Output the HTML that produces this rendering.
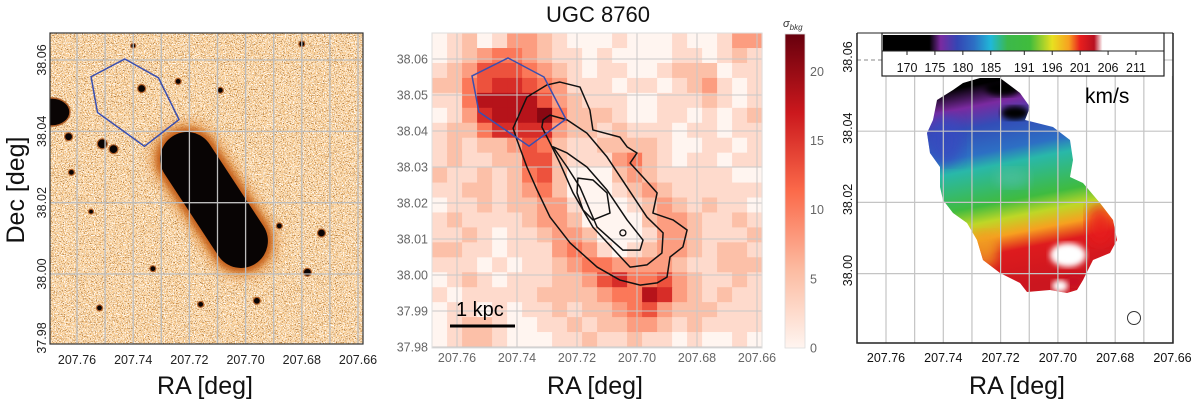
<!DOCTYPE html>
<html><head><meta charset="utf-8"><style>
html,body{margin:0;padding:0;background:#fff;}
svg{display:block;font-family:"Liberation Sans",sans-serif;}
</style></head><body>
<svg id="fig" width="1200" height="405" viewBox="0 0 1200 405" xmlns="http://www.w3.org/2000/svg">
<defs>
<filter id="spkDark" x="0" y="0" width="1" height="1">
<feTurbulence type="fractalNoise" baseFrequency="0.85" numOctaves="1" seed="7"/>
<feColorMatrix type="matrix" values="0 0 0 0 0.45  0 0 0 0 0.2  0 0 0 0 0.05  -14 0 0 0 5.7"/>
</filter>
<filter id="spkLight" x="0" y="0" width="1" height="1">
<feTurbulence type="fractalNoise" baseFrequency="0.9" numOctaves="1" seed="11"/>
<feColorMatrix type="matrix" values="0 0 0 0 1  0 0 0 0 1  0 0 0 0 1  12 0 0 0 -6.2"/>
</filter>
<filter id="blur3"><feGaussianBlur stdDeviation="3"/></filter>
<filter id="blur6"><feGaussianBlur stdDeviation="6"/></filter>
<clipPath id="clip1"><rect x="50" y="33" width="313" height="311"/></clipPath>
<clipPath id="clip3"><path d="M980,78 L1000,78 L1020,93 L1030,107 L1025,120 L1053,127 L1070,140 L1073,160 L1070,177 L1083,183 L1100,203 L1113,220 L1117,240 L1110,253 L1093,260 L1083,280 L1077,290 L1067,293 L1050,290 L1027,292 L1020,283 L1000,273 L983,260 L977,240 L967,223 L953,213 L943,200 L940,187 L940,167 L930,153 L927,133 L933,120 L937,100 L953,90 L963,83 Z"/></clipPath>
<linearGradient id="velGrad" gradientUnits="userSpaceOnUse" x1="990" y1="82" x2="1030" y2="285"></linearGradient>
<linearGradient id="cbarGrad" gradientUnits="userSpaceOnUse" x1="882" y1="0" x2="1164" y2="0"></linearGradient>
<linearGradient id="redsGrad" x1="0" y1="1" x2="0" y2="0">
<stop offset="0" stop-color="#fff5f0"/><stop offset="0.25" stop-color="#fcbba1"/><stop offset="0.5" stop-color="#fb6a4a"/><stop offset="0.75" stop-color="#cb181d"/><stop offset="1" stop-color="#67000d"/>
</linearGradient>
</defs>

<g id="p1">
<g clip-path="url(#clip1)">
<rect x="50" y="33" width="313" height="311" fill="#f9cf98"/>
<rect x="50" y="33" width="313" height="311" filter="url(#spkLight)" opacity="0.9"/>
<rect x="50" y="33" width="313" height="311" filter="url(#spkDark)"/>
<g transform="translate(214,200) rotate(56.7)">
<rect x="-86" y="-36" width="172" height="72" rx="36" fill="#e08a3a" filter="url(#blur6)" opacity="0.8"/>
<rect x="-80" y="-31" width="160" height="62" rx="31" fill="#c4601a" filter="url(#blur3)"/>
<rect x="-76" y="-27" width="152" height="54" rx="27" fill="#080404"/>
</g>
<ellipse cx="52" cy="112" rx="18" ry="14" fill="#0a0505" stroke="#b0602a" stroke-width="1.5"/>
<g id="stars1"></g>
</g>
<g id="grid1"></g>
<rect x="50" y="33" width="313" height="311" fill="none" stroke="#333" stroke-width="1.2"/>
<polygon id="hex1" fill="none" stroke="#3a4fb0" stroke-width="1.5"/>
<g id="ticks1"></g>
<text x="205" y="394" font-size="25" text-anchor="middle" fill="#111">RA [deg]</text>
<text x="0" y="0" font-size="25" text-anchor="middle" fill="#111" transform="translate(24,190) rotate(-90)">Dec [deg]</text>
</g>

<g id="p2">
<text x="598" y="22" font-size="22" text-anchor="middle" fill="#111">UGC 8760</text>
<rect x="432" y="33" width="330" height="315" fill="#fff5f0"/>
<g id="heat"></g>
<g id="grid2"></g>
<rect x="432" y="33" width="330" height="315" fill="none" stroke="#ddd" stroke-width="1"/>
<g id="contours"></g>
<polygon id="hex2" fill="none" stroke="#3a4fb0" stroke-width="1.5"/>
<line x1="450" y1="326" x2="515" y2="326" stroke="#000" stroke-width="3"/>
<text x="456" y="316" font-size="20" fill="#000">1 kpc</text>
<g id="ticks2"></g>
<text x="595" y="394" font-size="25" text-anchor="middle" fill="#111">RA [deg]</text>
<g>
<rect x="785" y="34" width="20" height="314" fill="url(#redsGrad)" stroke="#ddd" stroke-width="0.8"/>
<text x="783" y="27" font-size="11" font-style="italic" fill="#333">σ<tspan font-size="8" dy="3">bkg</tspan></text>
<g id="cbticks2"></g>
</g>
</g>

<g id="p3">
<rect x="857" y="33" width="316" height="310" fill="#fff"/>
<g clip-path="url(#clip3)">
<rect x="920" y="70" width="210" height="230" fill="url(#velGrad)"/>
<ellipse cx="1003" cy="88" rx="18" ry="8" fill="#000" filter="url(#blur3)"/>
<ellipse cx="1015" cy="113" rx="14" ry="7" fill="#050005" filter="url(#blur3)"/>
<ellipse cx="945" cy="140" rx="18" ry="24" fill="#3848c0" filter="url(#blur6)" opacity="0.8"/>
<ellipse cx="1012" cy="178" rx="18" ry="10" fill="#50c0a0" filter="url(#blur6)" opacity="0.7"/>
<ellipse cx="985" cy="250" rx="14" ry="18" fill="#f0a020" filter="url(#blur6)" opacity="0.8"/>
<ellipse cx="1068" cy="255" rx="18" ry="12" fill="#fff" filter="url(#blur3)"/>
<ellipse cx="1074" cy="282" rx="9" ry="6" fill="#c81020" filter="url(#blur3)"/>
<ellipse cx="1060" cy="286" rx="8" ry="6" fill="#fff" filter="url(#blur3)"/>
<ellipse cx="1100" cy="225" rx="14" ry="20" fill="#e81e1e" filter="url(#blur6)" opacity="0.8"/>
</g>
<g id="grid3"></g>
<line x1="857" y1="60" x2="882" y2="60" stroke="#888" stroke-dasharray="4,3" stroke-width="1"/>
<path d="M857,33 L857,343 L1173,343 L1173,33" fill="none" stroke="#222" stroke-width="1.5"/>
<line x1="857" y1="33" x2="1173" y2="33" stroke="#222" stroke-width="1"/>
<g>
<rect x="882" y="33" width="282" height="43" fill="#fff" stroke="#222" stroke-width="1.2"/>
<rect x="883" y="35" width="280" height="16" fill="url(#cbarGrad)"/>
<line x1="882" y1="51" x2="1164" y2="51" stroke="#222" stroke-width="1"/>
<g id="cbticks3"></g>
</g>
<text x="1085" y="103" font-size="21" fill="#000">km/s</text>
<circle cx="1134" cy="318" r="6.5" fill="none" stroke="#333" stroke-width="1"/>
<g id="ticks3"></g>
<text x="1017" y="394" font-size="25" text-anchor="middle" fill="#111">RA [deg]</text>
</g>
</svg>
<script>
const raTicks = [207.76, 207.74, 207.72, 207.70, 207.68, 207.66];
const raTickLabels = ["207.76","207.74","207.72","207.70","207.68","207.66"];
const decTicks1 = [38.06, 38.04, 38.02, 38.00, 37.98];
const decTickLabels1 = ["38.06","38.04","38.02","38.00","37.98"];
const decTicks2 = [38.06,38.05,38.04,38.03,38.02,38.01,38.00,37.99,37.98];
const decTickLabels2 = ["38.06","38.05","38.04","38.03","38.02","38.01","38.00","37.99","37.98"];
const decTicks3 = [38.06, 38.04, 38.02, 38.00];
const decTickLabels3 = ["38.06","38.04","38.02","38.00"];
const sigmaTicks = [0,5,10,15,20];
const sigmaMax = 22.7;
const velTicks = [170,175,180,185,191,196,201,206,211];
const velStopsV = [170,174,176,179,182,185,188,192,196,199,201,203.5,205];
const velStopsC = ["#000000","#000000","#7a2aa0","#3446b4","#2d6fc4","#20b8d8","#3cb84a","#40bc3c","#e8e020","#f7a020","#e81e1e","#b81020","#ffffff"];
// velocity along the field's main gradient (fraction along galaxy -> km/s)
const fieldPos = [0, 0.1, 0.2, 0.33, 0.4, 0.58, 0.66, 0.74, 0.82, 1];
const fieldVel = [174, 176, 179.5, 182, 186, 191, 195, 199, 201.5, 202.5];
const hexRA = [207.755,207.743,207.731,207.7237,207.736,207.7527];
const hexDec = [38.0553,38.0603,38.055,38.0433,38.0358,38.0453];
const heatRA0 = 207.7683, heatRA1 = 207.6583, heatDec0 = 38.0672, heatDec1 = 37.98;
const heat = [
"0120133210001000100133",
"0123443211010000110121",
"1235554321011001222011",
"2245665431110110123101",
"1147777532111001112101",
"0136777842221001101012",
"1224666632212111011011",
"1212235421122221001101",
"1211225521113421011011",
"2112124520002321111100",
"1122123420001232111111",
"0112122331000123212110",
"1211112332000023321121",
"1121011233200013321112",
"2211011134310123321221",
"1110101123443333211222",
"0121011122356445321121",
"1011111222234476321211",
"0110101121223453222111",
"0122100112122332121111",
"0122100011211211010010"];
const contourRA = [
[207.7367,207.73,207.7257,207.719,207.7157,207.7147,207.7057,207.7033,207.70,207.7023,207.698,207.6933,207.6947,207.688,207.6833,207.6847,207.689,207.69,207.6933,207.699,207.7057,207.7133,207.7223,207.729,207.7333,207.7367,207.74,207.7413],
[207.73,207.7313,207.7317,207.729,207.7257,207.7213,207.7147,207.7067,207.7023,207.6967,207.6917,207.6913,207.6967,207.7033,207.71,207.7167,207.7233,207.729],
[207.728,207.7233,207.719,207.7133,207.7047,207.699,207.698,207.7033,207.71,207.7167,207.7233],
[207.7197,207.7147,207.71,207.709,207.7147,207.718,207.72]];
const contourDec = [
[38.0494,38.0528,38.0536,38.0522,38.0458,38.0403,38.0383,38.0356,38.0339,38.0311,38.0272,38.0228,38.0172,38.0153,38.0125,38.0078,38.005,37.9994,37.9978,37.9972,37.9986,38.0022,38.0089,38.0161,38.0236,38.03,38.0375,38.0408],
[38.0439,38.0431,38.0411,38.0367,38.0311,38.0228,38.0133,38.0061,38.0022,38.0028,38.0061,38.0117,38.0161,38.0244,38.0328,38.0394,38.0431,38.0444],
[38.0356,38.03,38.0244,38.0133,38.0069,38.0069,38.0097,38.0153,38.0236,38.03,38.0339],
[38.0269,38.0264,38.0228,38.0172,38.0153,38.0181,38.0228]];
const starRA = [207.763,207.751,207.747,207.737,207.724,207.709,207.680,207.688,207.673,207.733,207.752,207.755,207.762,207.740,207.716,207.696,207.678];
const starDec = [38.0385,38.0365,38.035,38.052,38.054,38.0515,38.0645,38.0135,38.0115,38.0015,37.9905,38.0175,38.0285,38.064,37.9915,37.9925,38.0005];
const starR = [4,5,4.5,4,3,3,3,3,4,3,3,2.5,3,2.5,3,3.5,4];
const NS="http://www.w3.org/2000/svg";
function mk(tag, parent, attrs){const e=document.createElementNS(NS,tag);for(const k in attrs)e.setAttribute(k,attrs[k]);parent.appendChild(e);return e;}
const x1=ra=>77+(207.76-ra)*2810, y1=d=>60+(38.06-d)*3567;
const x2=ra=>457+(207.76-ra)*3000, y2=d=>59+(38.06-d)*3600;
const x3=ra=>886+(207.76-ra)*2865, y3=d=>60+(38.06-d)*3560;
function hex2rgb(a){return [1,3,5].map(i=>parseInt(a.substr(i,2),16));}
function lerpHex(a,b,t){const pa=hex2rgb(a),pb=hex2rgb(b);return "rgb("+pa.map((v,i)=>Math.round(v+(pb[i]-v)*t)).join(",")+")";}
const redsC=["#fff5f0","#fcbba1","#fb6a4a","#cb181d","#67000d"];
function reds(t){t=Math.max(0,Math.min(1,t));const s=t*4,i=Math.min(3,Math.floor(s));return lerpHex(redsC[i],redsC[i+1],s-i);}
function velColor(v){if(v<=velStopsV[0])return velStopsC[0];for(let i=0;i<velStopsV.length-1;i++){if(v<=velStopsV[i+1]){return lerpHex(velStopsC[i],velStopsC[i+1],(v-velStopsV[i])/(velStopsV[i+1]-velStopsV[i]));}}return velStopsC[velStopsC.length-1];}
// panel 1
const st=document.getElementById('stars1');
starRA.forEach((ra,i)=>{
 const c=mk('circle',st,{cx:x1(ra),cy:y1(starDec[i]),r:starR[i],fill:'#0a0505',stroke:'#b0602a','stroke-width':1.2});
 
 
});
const g1=document.getElementById('grid1');
for(let k=0;k<=10;k++){const ra=207.76-k*0.01;const l=mk('line',g1,{x1:x1(ra),x2:x1(ra),y1:33,y2:344,stroke:'#bdbdbd','stroke-width':1.3});
 
 }
decTicks1.slice(0,4).forEach(d=>{const l=mk('line',g1,{x1:50,x2:363,y1:y1(d),y2:y1(d),stroke:'#bdbdbd','stroke-width':1.3});
 
 });
document.getElementById('hex1').setAttribute('points',hexRA.map((r,i)=>x1(r)+','+y1(hexDec[i])).join(' '));
const t1=document.getElementById('ticks1');
raTicks.forEach((ra,i)=>{const t=mk('text',t1,{x:x1(ra),y:364,'font-size':12.5,'text-anchor':'middle',fill:'#222'});t.textContent=raTickLabels[i];
 
 });
decTicks1.forEach((d,i)=>{const yy=Math.min(y1(d),338);const t=mk('text',t1,{x:0,y:0,'font-size':12.5,'text-anchor':'middle',fill:'#222',transform:'translate(46,'+yy+') rotate(-90)'});t.textContent=decTickLabels1[i];
 
 });
// panel 2
const hg=document.getElementById('heat');
const nr=heat.length, nc=heat[0].length;
const cw=(x2(heatRA1)-x2(heatRA0))/nc, ch=(y2(heatDec1)-y2(heatDec0))/nr;
for(let r=0;r<nr;r++)for(let c=0;c<nc;c++){const v=parseInt(heat[r][c])*2.6;
 const ra=heatRA0+(heatRA1-heatRA0)*c/nc, de=heatDec0+(heatDec1-heatDec0)*r/nr;
 const e=mk('rect',hg,{x:x2(ra),y:y2(de),width:cw+0.5,height:ch+0.5,fill:reds(v/sigmaMax)});
 
 }
const g2=document.getElementById('grid2');
raTicks.forEach(ra=>{const l=mk('line',g2,{x1:x2(ra),x2:x2(ra),y1:33,y2:348,stroke:'#c8c8c8','stroke-width':1});
 
 });
decTicks2.forEach(d=>{const l=mk('line',g2,{x1:432,x2:762,y1:y2(d),y2:y2(d),stroke:'#c8c8c8','stroke-width':1});
 
 });
const cg=document.getElementById('contours');
contourRA.forEach((arr,k)=>{const p=mk('polygon',cg,{points:arr.map((r,i)=>x2(r)+','+y2(contourDec[k][i])).join(' '),fill:'none',stroke:'#111','stroke-width':1.5,'stroke-linejoin':'round'});
 
 });
const sc=mk('circle',cg,{cx:x2(207.7047),cy:y2(38.0117),r:3,fill:'none',stroke:'#111','stroke-width':1.3});


document.getElementById('hex2').setAttribute('points',hexRA.map((r,i)=>x2(r)+','+y2(hexDec[i])).join(' '));
const t2=document.getElementById('ticks2');
raTicks.forEach((ra,i)=>{const t=mk('text',t2,{x:x2(ra),y:362,'font-size':12.5,'text-anchor':'middle',fill:'#666'});t.textContent=raTickLabels[i];
 
 });
decTicks2.forEach((d,i)=>{const t=mk('text',t2,{x:428,y:y2(d)+4.5,'font-size':12.5,'text-anchor':'end',fill:'#666'});t.textContent=decTickLabels2[i];
 
 });
const cb2=document.getElementById('cbticks2');
sigmaTicks.forEach(v=>{const yy=348-v/sigmaMax*314;const t=mk('text',cb2,{x:810,y:yy+4.5,'font-size':12.5,fill:'#666'});t.textContent=v;
 
 });
// panel 3
const vx=v=>907+(v-170)*(1136-907)/(211-170);
const cbg=document.getElementById('cbarGrad'), vg=document.getElementById('velGrad');
velStopsV.forEach((v,i)=>{mk('stop',cbg,{offset:((vx(v)-882)/282).toFixed(4),'stop-color':velStopsC[i]});});
fieldPos.forEach((p,i)=>{mk('stop',vg,{offset:p,'stop-color':velColor(fieldVel[i])});});
const g3=document.getElementById('grid3');
for(let k=0;k<=10;k++){const ra=207.76-k*0.01;const l=mk('line',g3,{x1:x3(ra),x2:x3(ra),y1:76,y2:343,stroke:'#c4c4c4','stroke-width':1.2});
 
 }
decTicks3.forEach(d=>{const l=mk('line',g3,{x1:857,x2:1173,y1:y3(d),y2:y3(d),stroke:'#c4c4c4','stroke-width':1.2});
 if(d>38.05){l.setAttribute('x1',1164);}
 
 });
const cb3=document.getElementById('cbticks3');
velTicks.forEach(v=>{mk('line',cb3,{x1:vx(v),x2:vx(v),y1:51,y2:55,stroke:'#222','stroke-width':1});
 const t=mk('text',cb3,{x:vx(v),y:72,'font-size':12.5,'text-anchor':'middle',fill:'#111'});t.textContent=v;
 
 });
const t3=document.getElementById('ticks3');
raTicks.forEach((ra,i)=>{const t=mk('text',t3,{x:x3(ra),y:362,'font-size':12.5,'text-anchor':'middle',fill:'#111'});t.textContent=raTickLabels[i];
 
 });
decTicks3.forEach((d,i)=>{const t=mk('text',t3,{x:0,y:0,'font-size':12.5,'text-anchor':'middle',fill:'#111',transform:'translate('+852+','+(y3(d)-3)+') rotate(-90)'});t.textContent=decTickLabels3[i];
 
 });
</script>
</body></html>
